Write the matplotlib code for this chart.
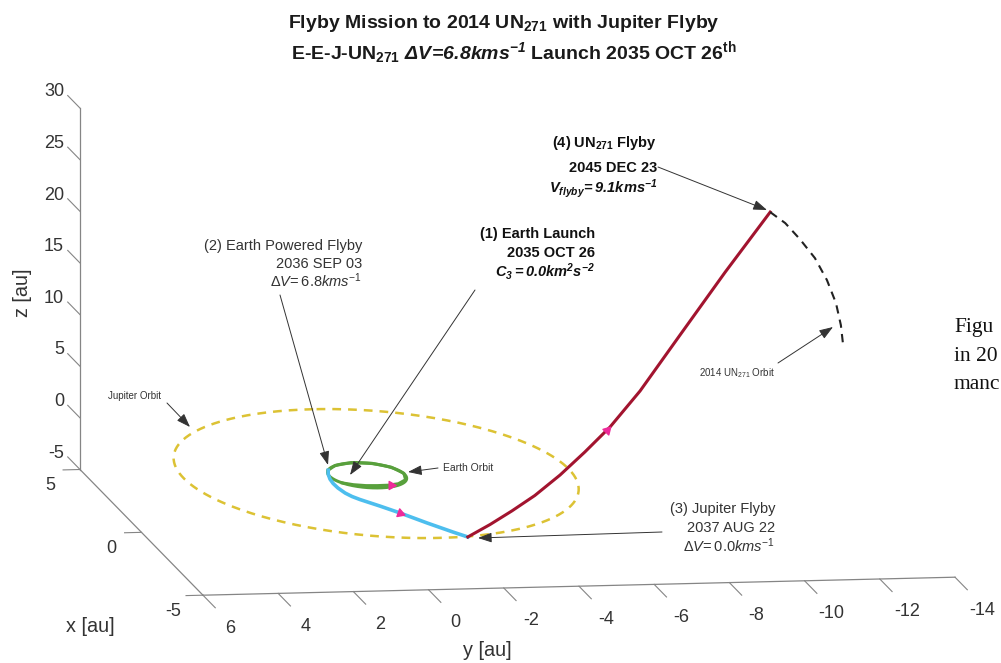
import numpy as np
import matplotlib.pyplot as plt
from mpl_toolkits.mplot3d import proj3d

plt.rcParams['font.family'] = ['Liberation Sans', 'DejaVu Sans']
plt.rcParams['mathtext.fontset'] = 'custom'
plt.rcParams['mathtext.rm'] = 'Liberation Sans'
plt.rcParams['mathtext.sf'] = 'Liberation Sans'
plt.rcParams['mathtext.it'] = 'Liberation Sans:italic'
plt.rcParams['mathtext.bf'] = 'Liberation Sans:bold'
if 'mathtext.bfit' in plt.rcParams:
    plt.rcParams['mathtext.bfit'] = 'Liberation Sans:bold:italic'

# ---- values (au) ----
earth_orbit_r = 1.0
jupiter_orbit_r = 5.12
jupiter_orbit_c = (0.12, -0.28)

# leg 1  Earth -> Earth  (polar angle in deg, radius), in the ecliptic
ee_theta = [123, 140, 160, 180, 200, 220, 245, 275, 305, 335, 365, 395, 422]
ee_r = [1.0, 0.92, 0.85, 0.82, 0.86, 0.93, 0.98, 1.01, 1.02, 1.02, 1.02, 1.01, 1.0]

# leg 2  Earth -> Jupiter
ej_x = [0.47, 0.17, -0.22, -0.57, -0.93, -1.34, -1.62, -1.87, -2.41, -2.99, -3.82, -4.57, -4.98]
ej_y = [0.88, 0.98, 1.06, 1.09, 1.08, 1.02, 0.93, 0.80, 0.45, 0.10, -0.35, -0.79, -1.05]
ej_z = [0, 0, 0, 0, 0, 0, 0, 0, 0, 0, 0, 0, 0]

# leg 3  Jupiter -> 2014 UN271
ju_x = [-4.98, -4.98, -4.93, -4.83, -4.56, -4.19, -3.73, -2.93, -1.53, 0.05, 1.50]
ju_y = [-1.05, -1.64, -2.24, -2.88, -3.64, -4.42, -5.24, -6.30, -7.82, -9.54, -11.21]
ju_z = [0.0, 1.15, 2.36, 3.67, 5.26, 6.97, 8.76, 11.18, 14.76, 18.79, 22.69]

# 2014 UN271 orbit near the encounter
un_x = [1.5, 1.5, 1.5, 1.5, 1.5, 1.5, 1.5, 1.5]
un_y = [-11.21, -11.61, -12.00, -12.40, -12.72, -12.96, -13.09, -13.15]
un_z = [22.69, 21.59, 20.00, 18.13, 15.97, 13.72, 11.58, 9.64]

# direction markers on the legs (x, y, z, direction on screen in deg)
mk_x = [-0.80, -2.99, -3.78]
mk_y = [-0.37, 0.10, -5.15]
mk_z = [0, 0, 8.58]
mk_ang = [0, -20, 46]

x_ticks = [-5, 0, 5]
y_ticks = [6, 4, 2, 0, -2, -4, -6, -8, -10, -12, -14]
z_ticks = [-5, 0, 5, 10, 15, 20, 25, 30]

axis_col = '#858585'
txt_col = '#333333'

fig = plt.figure(figsize=(10.01, 6.63), dpi=100)
ax = fig.add_axes([0.05, 0.05, 0.9, 0.9], projection='3d',
                  proj_type='ortho', computed_zorder=False)
ax.set_xlim(-5, 5)
ax.set_ylim(-14, 6)
ax.set_zlim(-5, 30)
ax.set_box_aspect((813, 761, 366))
ax.view_init(elev=9, azim=171.3)
ax.set_axis_off()

# axes drawn MATLAB style
ax.plot([5, 5], [6, 6], [-5, 30], color=axis_col, lw=0.9)
ax.plot([5, -5], [6, 6], [-5, -5], color=axis_col, lw=0.9)
ax.plot([-5, -5], [6, -14], [-5, -5], color=axis_col, lw=0.9)
for z in z_ticks:
    ax.plot([5, 6], [6, 6], [z, z], color=axis_col, lw=0.8)
for x in x_ticks:
    ax.plot([x, x], [6, 6.45], [-5, -5], color=axis_col, lw=0.8)
for y in y_ticks:
    ax.plot([-5, -6], [y, y], [-5, -5], color=axis_col, lw=0.8)

# orbits
t = np.linspace(0, 2 * np.pi, 300)
ax.plot(jupiter_orbit_c[0] + jupiter_orbit_r * np.cos(t),
        jupiter_orbit_c[1] + jupiter_orbit_r * np.sin(t), 0 * t,
        color='#DCC234', lw=1.8, ls=(0, (3.5, 2.8)), zorder=1)
ax.plot(earth_orbit_r * np.cos(t), earth_orbit_r * np.sin(t), 0 * t,
        color='#58A03C', lw=2.2, zorder=2)

th = np.radians(ee_theta)
ax.plot(np.array(ee_r) * np.cos(th), np.array(ee_r) * np.sin(th), 0 * th,
        color='#58A03C', lw=2.2, zorder=3)
ax.plot(ej_x, ej_y, ej_z, color='#4DBEEE', lw=2.6, zorder=3)
ax.plot(ju_x, ju_y, ju_z, color='#A2142F', lw=2.2, zorder=3)
ax.plot(un_x, un_y, un_z, color='#222222', lw=1.5, ls=(0, (4, 3)), zorder=3)

for i in range(len(mk_x)):
    ax.scatter([mk_x[i]], [mk_y[i]], [mk_z[i]], marker=(3, 0, mk_ang[i] - 90),
               s=45, color='#EE2A9A', depthshade=False, zorder=4)

W, H = fig.bbox.width, fig.bbox.height


def to_px(x, y, z):
    px, py, _ = proj3d.proj_transform(x, y, z, ax.get_proj())
    dx, dy = ax.transData.transform((px, py))
    return np.array([dx, H - dy])


# fit the projected box onto the layout of the original picture
fig.canvas.draw()
corners = [(5, 6, -5), (-5, 6, -5), (-5, -14, -5), (5, 6, 30)]
targets = [(80, 470), (203, 595), (955, 577), (80, 108)]
cur = np.array([to_px(*c) for c in corners])
tgt = np.array(targets, dtype=float)
cm, tm = cur.mean(0), tgt.mean(0)
s = ((cur - cm) * (tgt - tm)).sum() / ((cur - cm) ** 2).sum()
tr = tm - s * cm          # pixel coords, y down
pos = ax.get_position()
x0, y1 = pos.x0 * W, H - pos.y1 * H
nx0, ny1 = s * x0 + tr[0], s * y1 + tr[1]
nw, nh = s * pos.width * W, s * pos.height * H
ax.set_position([nx0 / W, (H - ny1 - nh) / H, nw / W, nh / H])
fig.canvas.draw()

# annotation layer in pixel coordinates
ov = fig.add_axes([0, 0, 1, 1], zorder=5)
ov.set_xlim(0, 1001)
ov.set_ylim(663, 0)
ov.axis('off')

# tick labels at the projected tick ends
for z in z_ticks:
    u, v = to_px(6.3, 6, z)
    ov.text(u, v, str(z), ha='right', va='center', fontsize=13, color=txt_col)
for x in x_ticks:
    u, v = to_px(x, 6.8, -6.5)
    ov.text(u, v, str(x), ha='center', va='center', fontsize=13, color=txt_col)
for y in y_ticks:
    u, v = to_px(-7.2, y, -5.5)
    ov.text(u, v, str(y), ha='center', va='center', fontsize=13, color=txt_col)

ov.text(504, 28, r'Flyby Mission to 2014 UN$_{\mathbf{271}}$ with Jupiter Flyby',
        ha='center', va='baseline', fontsize=14, fontweight='bold', color='#1a1a1a')
ov.text(514, 59, r'E-E-J-UN$_{\mathbf{271}}$ $\mathbfit{\Delta V\!=\!6.8kms^{-1}}$ Launch 2035 OCT 26$^{\mathbf{th}}$',
        ha='center', va='baseline', fontsize=14, fontweight='bold', color='#1a1a1a')

ov.text(90, 626, 'x [au]', ha='center', va='center', fontsize=14.3, color=txt_col)
ov.text(487, 651, 'y [au]', ha='center', va='center', fontsize=14.3, color=txt_col)
ov.text(22, 293, 'z [au]', ha='center', va='center', fontsize=14.3, color=txt_col, rotation=90)

blocks = [
    (595, [238, 257, 277], ['(1) Earth Launch', '2035 OCT 26',
                            r'$\mathbfit{C_3 = 0.0km^2s^{-2}}$'], 'bold', '#111111'),
    (362, [250, 268, 287], ['(2) Earth Powered Flyby', '2036 SEP 03',
                            r'$\mathit{\Delta V\!=6.8kms^{-1}}$'], 'normal', '#333333'),
    (775, [513, 532, 552], ['(3) Jupiter Flyby', '2037 AUG 22',
                            r'$\mathit{\Delta V\!=0.0kms^{-1}}$'], 'normal', '#333333'),
    (657, [147, 172, 193], [r'(4) UN$_{\mathbf{271}}$ Flyby', '2045 DEC 23',
                            r'$\mathbfit{V_{flyby}\!=9.1kms^{-1}}$'], 'bold', '#111111'),
]
for xr, ys, lines, wt, col in blocks:
    for yy, ln in zip(ys, lines):
        ov.text(xr, yy, ln, ha='right', va='baseline', fontsize=10.5,
                fontweight=wt, color=col)

ov.text(135, 396, 'Jupiter Orbit', ha='center', va='center', fontsize=7, color='#333333')
ov.text(443, 468, 'Earth Orbit', ha='left', va='center', fontsize=7.5, color='#333333')
ov.text(737, 373, r'2014 UN$_{271}$ Orbit', ha='center', va='center', fontsize=7, color='#333333')

arrows = [((475, 290), (350, 475)), ((280, 295), (328, 465)),
          ((662, 532), (478, 538)), ((658, 167), (767, 210)),
          ((167, 403), (190, 427)), ((438, 468), (408, 472)),
          ((778, 363), (833, 327))]
for a, b in arrows:
    ov.annotate('', xy=b, xytext=a,
                arrowprops=dict(arrowstyle='-|>,head_length=0.7,head_width=0.25',
                                mutation_scale=12, lw=0.7, color='#333333',
                                shrinkA=0, shrinkB=0))

# text of the surrounding page, cut by the right edge
for yy, s_ in zip([332, 361, 389], ['Figu', 'in 20', 'manc']):
    ov.text(954, yy, s_, ha='left', va='baseline', fontsize=15.5,
            family='Liberation Serif', color='#111111')

fig.savefig('out.png', dpi=100)
